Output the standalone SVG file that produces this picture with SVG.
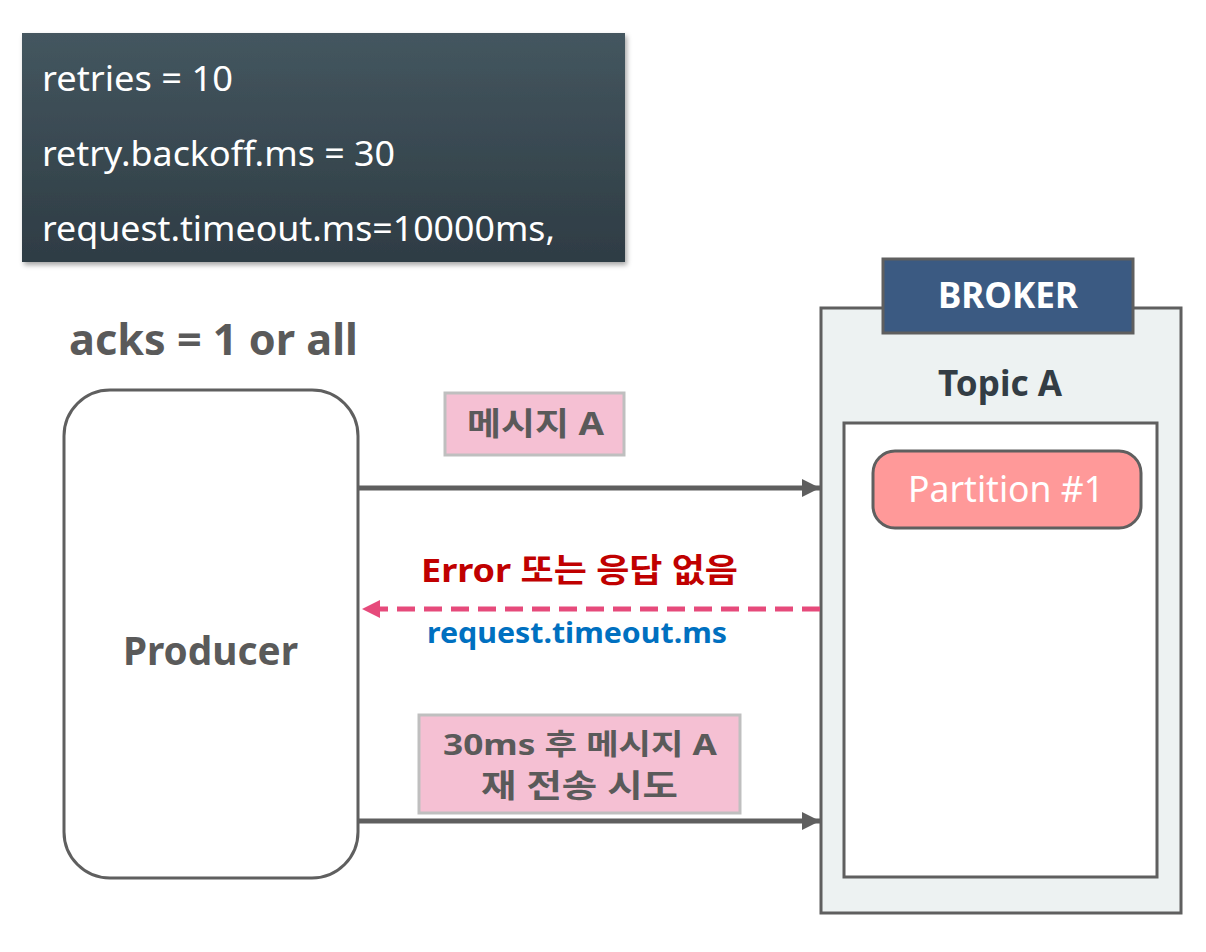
<svg xmlns="http://www.w3.org/2000/svg" width="1206" height="952" viewBox="0 0 1206 952">
<defs>
<linearGradient id="cfg" x1="0" y1="0" x2="0" y2="1">
<stop offset="0" stop-color="#44565f"/>
<stop offset="1" stop-color="#2e3c44"/>
</linearGradient>
<filter id="sh" x="-5%" y="-5%" width="110%" height="115%">
<feDropShadow dx="2" dy="3" stdDeviation="2.5" flood-color="#000" flood-opacity="0.35"/>
</filter>
<marker id="ah" markerWidth="4" markerHeight="4" refX="3.6" refY="2" orient="auto" markerUnits="strokeWidth">
<path d="M0,0.2 L3.6,2 L0,3.8 Z" fill="#5f5f5f"/>
</marker>
<marker id="ahp" markerWidth="4" markerHeight="4" refX="3.6" refY="2" orient="auto" markerUnits="strokeWidth">
<path d="M0,0.2 L3.6,2 L0,3.8 Z" fill="#e64a7b"/>
</marker>
<style>
text{font-family:"Noto Sans","Open Sans","Noto Sans CJK KR",sans-serif;}
.cfg{fill:#fff;font-size:34px;}
.b{font-weight:bold;}
.g{fill:#5a5a5a;}
.lbl{fill:#f5c0d3;stroke:#bfbfbf;stroke-width:3;}
.edge{stroke:#5f5f5f;stroke-width:5;fill:none;}
</style>
</defs>
<g id="config">
<rect x="22" y="33" width="603" height="229" fill="url(#cfg)" filter="url(#sh)"/>
<text class="cfg" x="42" y="91" textLength="191" lengthAdjust="spacingAndGlyphs">retries = 10</text>
<text class="cfg" x="42" y="166" textLength="353" lengthAdjust="spacingAndGlyphs">retry.backoff.ms = 30</text>
<text class="cfg" x="42" y="241" textLength="513" lengthAdjust="spacingAndGlyphs">request.timeout.ms=10000ms,</text>
</g>
<g id="acks">
<text class="b g" x="69" y="355" font-size="43" textLength="289" lengthAdjust="spacingAndGlyphs">acks = 1 or all</text>
</g>
<g id="producer">
<rect x="64" y="390" width="294" height="488" rx="46" fill="#fff" stroke="#5f5f5f" stroke-width="3"/>
<text class="b g" x="123" y="665" font-size="39" textLength="175" lengthAdjust="spacingAndGlyphs">Producer</text>
</g>
<g id="broker">
<rect x="821" y="308" width="360" height="605" fill="#edf2f2" stroke="#5f5f5f" stroke-width="3"/>
<rect x="883" y="259" width="250" height="74" fill="#3b5a82" stroke="#5f5f5f" stroke-width="3"/>
<text class="b" x="938" y="308" font-size="35" fill="#fff" textLength="140" lengthAdjust="spacingAndGlyphs">BROKER</text>
<text class="b" x="938" y="396" font-size="35" fill="#333d45" textLength="124" lengthAdjust="spacingAndGlyphs">Topic A</text>
<rect x="844" y="423" width="313" height="454" fill="#fff" stroke="#5f5f5f" stroke-width="3"/>
</g>
<g id="partition">
<rect x="873" y="451" width="268" height="77" rx="22" fill="#ff9999" stroke="#5f5f5f" stroke-width="3"/>
<text x="908" y="502" font-size="36" fill="#fff" textLength="196" lengthAdjust="spacingAndGlyphs">Partition #1</text>
</g>
<g id="connectors">
<line class="edge" x1="358" y1="488" x2="820" y2="488" marker-end="url(#ah)"/>
<line x1="820" y1="609" x2="362" y2="609" stroke="#e64a7b" stroke-width="5" stroke-dasharray="18,9" marker-end="url(#ahp)"/>
<line class="edge" x1="358" y1="821" x2="820" y2="821" marker-end="url(#ah)"/>
</g>
<g id="label-msgA">
<rect class="lbl" x="445" y="393" width="179" height="62"/>
<text class="b g" x="467" y="435" font-size="32" textLength="137" lengthAdjust="spacingAndGlyphs">메시지 A</text>
</g>
<g id="label-error">
<text class="b" x="421" y="582" font-size="33" fill="#c00000" textLength="317" lengthAdjust="spacingAndGlyphs">Error 또는 응답 없음</text>
<text class="b" x="427" y="643" font-size="29" fill="#0070c0" textLength="300" lengthAdjust="spacingAndGlyphs">request.timeout.ms</text>
</g>
<g id="label-retry">
<rect class="lbl" x="419" y="715" width="321" height="98"/>
<text class="b g" x="443" y="755" font-size="29" textLength="274" lengthAdjust="spacingAndGlyphs">30ms 후 메시지 A</text>
<text class="b g" x="481" y="797" font-size="32" textLength="197" lengthAdjust="spacingAndGlyphs">재 전송 시도</text>
</g>
</svg>
